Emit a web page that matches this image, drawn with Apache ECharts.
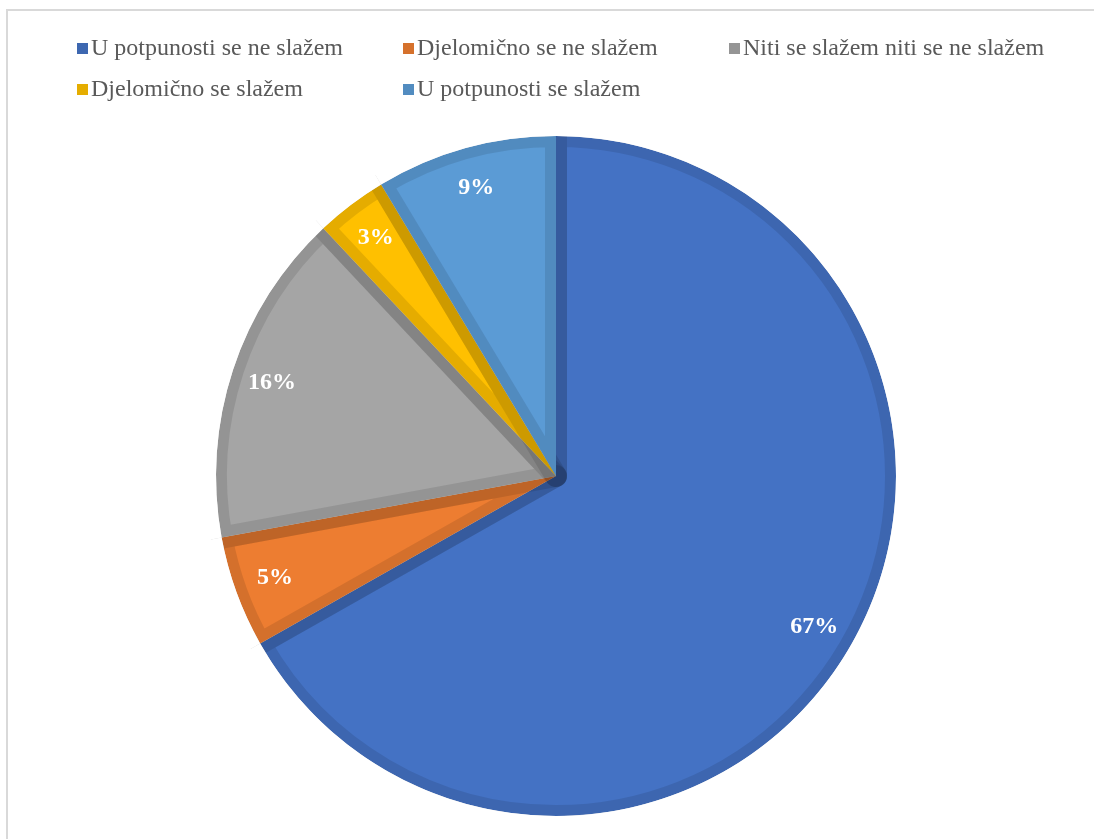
<!DOCTYPE html>
<html>
<head>
<meta charset="utf-8">
<script src="https://cdn.jsdelivr.net/npm/echarts@6/dist/echarts.min.js"></script>
<style>
  html, body { margin: 0; padding: 0; background: #fff; overflow: hidden; }
  #frame { position: absolute; left: 6px; top: 9px; width: 1100px; height: 900px; border: 2px solid #d9d9d9; box-sizing: border-box; }
  #chart { position: absolute; left: 0; top: 0; width: 1094px; height: 839px; }
</style>
</head>
<body>
<div id="frame"></div>
<div id="chart"></div>
<script>
const categories = [
  'U potpunosti se ne slažem',
  'Djelomično se ne slažem',
  'Niti se slažem niti se ne slažem',
  'Djelomično se slažem',
  'U potpunosti se slažem'
];
const shares = [66.8, 5.3, 15.9, 3.4, 8.6];
const fillColors = ['#4472C4', '#ED7D31', '#A5A5A5', '#FFC000', '#5B9BD5'];
const edgeColors = ['#3D67B0', '#D5712C', '#959595', '#E5AD00', '#528CC0'];

const chart = echarts.init(document.getElementById('chart'), null, { renderer: 'canvas' });

const baseData = categories.map((c, i) => ({ name: c, value: shares[i], itemStyle: { color: fillColors[i] } }));
const center = [556, 476];
const serif = '"Liberation Serif", "Times New Roman", serif';

chart.setOption({
  animation: false,
  color: edgeColors,
  legend: {
    data: categories.map((c, i) => ({ name: c, itemStyle: { color: edgeColors[i], borderWidth: 0 } })),
    left: 72,
    top: 29,
    right: 0,
    orient: 'horizontal',
    icon: 'rect',
    itemWidth: 11,
    itemHeight: 11,
    itemGap: 12,
    selectedMode: false,
    itemStyle: { borderWidth: 0 },
    textStyle: {
      fontFamily: serif,
      fontSize: 24,
      color: '#595959',
      width: 300,
      lineHeight: 29,
      padding: [0, 0, 0, -2]
    }
  },
  series: [
    {
      // slices with a darker inner edge (half of the stroke lies outside, masked below)
      type: 'pie',
      silent: true,
      center: center,
      radius: [0, 340],
      startAngle: 90,
      clockwise: true,
      label: { show: false },
      labelLine: { show: false },
      itemStyle: { borderWidth: 22, borderColor: 'rgba(0,0,0,0.1)', borderJoin: 'round' },
      data: baseData,
      z: 2
    },
    {
      // white ring hiding the outer half of the stroke
      type: 'pie',
      silent: true,
      legendHoverLink: false,
      center: center,
      radius: [340, 360],
      startAngle: 90,
      clockwise: true,
      label: { show: false },
      labelLine: { show: false },
      itemStyle: { color: '#ffffff', borderWidth: 0 },
      data: categories.map((c, i) => ({ name: c, value: shares[i] })),
      z: 3
    },
    {
      type: 'pie',
      silent: true,
      center: center,
      radius: [252, 340],
      startAngle: 90,
      clockwise: true,
      percentPrecision: 0,
      itemStyle: { color: 'rgba(0,0,0,0)' },
      label: {
        show: true,
        position: 'inside',
        formatter: '{d}%',
        color: '#ffffff',
        fontFamily: serif,
        fontWeight: 'bold',
        fontSize: 24
      },
      labelLine: { show: false },
      data: categories.map((c, i) => ({ name: c, value: shares[i] })),
      z: 5
    }
  ]
});
</script>
</body>
</html>
